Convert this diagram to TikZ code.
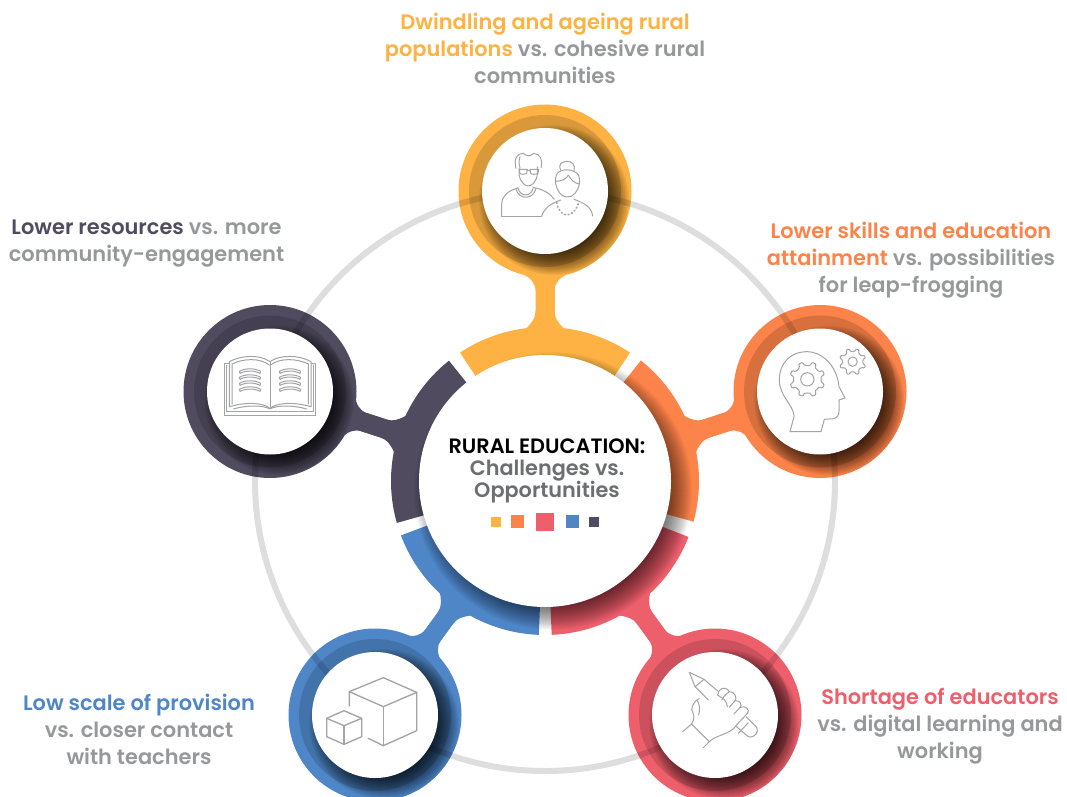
\documentclass[tikz,border=0pt]{standalone}
\usepackage{fontspec}
\setmainfont{Poppins SemiBold}
\definecolor{cy}{HTML}{FDB243}
\definecolor{co}{HTML}{FC8349}
\definecolor{cr}{HTML}{EE5F6C}
\definecolor{cb}{HTML}{4E86C8}
\definecolor{cd}{HTML}{514B5F}
\definecolor{txg}{HTML}{97989B}
\definecolor{mid}{HTML}{6D6E71}
\definecolor{ringg}{HTML}{DEDEDE}
\definecolor{ico}{HTML}{A3A4A6}
\tikzset{
  lab/.style={font=\fontsize{15.7}{20.25}\selectfont,align=center,text=txg,inner sep=0},
  hubdisc/.style={circle,fill=white,minimum size=94.5pt,inner sep=0},
  stem/.style={line width=14.25pt},
  icon/.style={draw=ico,line width=.75pt,line join=round,line cap=round},
  bigring/.style={draw=ringg,line width=4.5pt},
}
\newcommand{\fillet}[2]{%
  \begin{scope}[shift={(cc)},rotate=#1]
    \fill[#2] (148,24) .. controls (158,12) and (164,9.5) .. (170,9.5) -- (190,9.5)
      .. controls (198,9.5) and (203,14) .. (208,24) -- (208,-24)
      .. controls (203,-14) and (198,-9.5) .. (190,-9.5) -- (170,-9.5)
      .. controls (164,-9.5) and (158,-12) .. (148,-24) -- cycle;
  \end{scope}}
\newcommand{\segm}[3]{\fill[#3] ([shift={(cc)}]#1:120) arc (#1:#2:120) -- ([shift={(cc)}]#2:154) arc (#2:#1:154) -- cycle;}
\newcommand{\hubbase}[2]{%
  \fill[#2] (#1) circle (86.5);
  \fill[black,opacity=.14] (#1) circle (76);
  \begin{scope}
    \clip (#1) circle (86.5);
    \foreach \r in {75,74,...,50} \fill[black,opacity=.045] ([shift={(9,-9)}]#1) circle (\r);
  \end{scope}}
\newcommand{\gearicon}[5]{%
  \begin{scope}[shift={(#1,#2)}]
   \draw[icon,rounded corners=.8pt] (#4,0) \foreach \a in {0,45,...,315}{
     -- (\a+12:#4) -- (\a+15:#3) -- (\a+30:#3) -- (\a+33:#4) } -- cycle;
   \draw[icon] (0,0) circle (#5);
  \end{scope}}
\begin{document}
\begin{tikzpicture}[x=.75pt,y=.75pt]
\useasboundingbox (0,0) rectangle (1067,-796);
\fill[white] (0,0) rectangle (1067,-796);
\coordinate (cc) at (545,-481);
\coordinate (hy) at (545,-191);
\coordinate (ho) at (820,-391.5);
\coordinate (hd) at (270,-391.5);
\coordinate (hb) at (375,-715);
\coordinate (hr) at (715,-715);
\begin{scope}
\clip (0,0) rectangle (1067,-796);
\draw[bigring] (cc) circle (290);
\draw[stem,cy] (cc) -- (hy);
\draw[stem,co] (cc) -- (ho);
\draw[stem,cd] (cc) -- (hd);
\draw[stem,cb] (cc) -- (hb);
\draw[stem,cr] (cc) -- (hr);
\fillet{90}{cy}\fillet{18}{co}\fillet{162}{cd}\fillet{234}{cb}\fillet{306}{cr}
\fill[white] (cc) circle (125);
\segm{56.5}{123.5}{cy}
\segm{-15.3}{51.5}{co}
\segm{-87.5}{-21.3}{cr}
\segm{-159.3}{-92.3}{cb}
\segm{128.6}{195.8}{cd}
\foreach \r in {139,138,...,114} \fill[black,opacity=.026] (553,-491) circle (\r);
\hubbase{hy}{cy}\hubbase{ho}{co}\hubbase{hd}{cd}\hubbase{hb}{cb}\hubbase{hr}{cr}
\begin{scope}
\clip (hy) circle (86.5) (ho) circle (86.5) (hd) circle (86.5) (hb) circle (86.5) (hr) circle (86.5);
\draw[black,opacity=.13,line width=4.5pt] (cc) circle (290);
\end{scope}
\end{scope}
\node[hubdisc] (ny) at (hy) {};
\node[hubdisc] (no) at (ho) {};
\node[hubdisc] (nd) at (hd) {};
\node[hubdisc] (nb) at (hb) {};
\node[hubdisc] (nr) at (hr) {};
\node[circle,fill=white,minimum size=189pt,inner sep=0] (nc) at (cc) {};
\node[font=\fontsize{15.6}{16.5}\selectfont,align=center,inner sep=0,text=mid] (tc) at (547,-471)
  {\textcolor{black}{RURAL EDUCATION:}\\Challenges vs.\\Opportunities};
\fill[cy] (491,-517) rectangle (501,-527);
\fill[co] (511,-515) rectangle (524.3,-528.3);
\fill[cr] (536,-513) rectangle (554,-531);
\fill[cb] (566,-515) rectangle (579.3,-528.3);
\fill[cd] (589.3,-517) rectangle (599.3,-527);
\node[lab] (ty) at (545,-48) {\textcolor{cy}{Dwindling and ageing rural}\\\textcolor{cy}{populations} vs. cohesive rural\\communities};
\node[lab] (td) at (146.5,-244) {\textcolor{cd}{Lower resources} vs. more\\community-engagement};
\node[lab] (to) at (911,-260) {\textcolor{co}{Lower skills and education}\\\textcolor{co}{attainment} vs. possibilities\\for leap-frogging};
\node[lab] (tb) at (139,-729) {\textcolor{cb}{Low scale of provision}\\vs. closer contact\\with teachers};
\node[lab] (tr) at (940,-726) {\textcolor{cr}{Shortage of educators}\\vs. digital learning and\\working};
\begin{scope}[shift={(440,-100)},x=.25pt,y=-.25pt]
\draw[icon] (185,348) -- (305,348);
\draw[icon] (185,348) -- (185,312) .. controls (187,285) and (205,272) .. (234,264);
\draw[icon] (280,262) .. controls (310,268) and (330,280) .. (343,298);
\draw[icon] (234,264) .. controls (240,292) and (275,292) .. (280,262);
\draw[icon] (228,268) .. controls (238,300) and (280,300) .. (288,265);
\draw[icon] (237,205) -- (237,225) .. controls (240,245) and (255,258) .. (264,258) .. controls (276,258) and (290,245) .. (292,222) -- (292,200);
\draw[icon] (228,205) .. controls (220,175) and (232,160) .. (250,160) .. controls (262,170) and (272,170) .. (280,160) .. controls (300,160) and (310,180) .. (303,203);
\draw[icon] (240,170) .. controls (235,185) and (238,195) .. (240,205);
\draw[icon] (238,208) -- (262,208) -- (260,220) .. controls (255,224) and (243,224) .. (240,220) -- cycle;
\draw[icon] (270,208) -- (296,208) -- (294,220) .. controls (288,224) and (275,224) .. (272,220) -- cycle;
\draw[icon] (262,211) -- (270,211);
\draw[icon] (362,210) .. controls (352,190) and (370,184) .. (382,184) .. controls (395,184) and (408,195) .. (402,212);
\draw[icon] (352,220) .. controls (365,205) and (400,205) .. (416,225) .. controls (422,245) and (418,265) .. (405,280) .. controls (395,295) and (368,295) .. (358,278) .. controls (348,262) and (340,240) .. (352,220) -- cycle;
\draw[icon] (345,243) .. controls (368,245) and (380,235) .. (385,225) .. controls (392,240) and (405,250) .. (417,252);
\draw[icon] (305,348) .. controls (315,322) and (330,312) .. (362,300);
\draw[icon] (402,298) .. controls (430,308) and (455,320) .. (458,348);
\draw[icon,dotted,line width=1.2pt] (350,308) .. controls (355,335) and (370,345) .. (382,345) .. controls (400,342) and (412,325) .. (416,307);
\end{scope}
\begin{scope}[shift={(720,-320)},x=.25pt,y=-.25pt]
\draw[icon] (210,335) -- (303,335) -- (313,298) -- (340,296) .. controls (352,294) and (357,285) .. (357,272) -- (357,240) -- (375,234) -- (357,200) .. controls (350,130) and (300,95) .. (262,95) .. controls (210,95) and (178,130) .. (178,180) .. controls (178,230) and (222,255) .. (222,290) -- cycle;
\gearicon{262}{178}{53}{42}{20}
\gearicon{398}{125}{40}{31}{14}
\end{scope}
\begin{scope}[shift={(170,-300)},x=.25pt,y=-.25pt]
\draw[icon] (163,345) -- (163,190) -- (178,190);
\draw[icon] (437,345) -- (437,190) -- (423,190);
\draw[icon] (163,345) -- (437,345);
\draw[icon] (170,335) -- (170,195);
\draw[icon] (430,335) -- (430,195);
\draw[icon] (170,335) -- (430,335);
\draw[icon] (178,320) -- (178,185) .. controls (215,165) and (270,163) .. (300,185) .. controls (330,163) and (390,165) .. (423,185) -- (423,320);
\draw[icon] (186,312) -- (186,192) .. controls (220,175) and (270,173) .. (298,195);
\draw[icon] (415,312) -- (415,192) .. controls (380,175) and (330,173) .. (302,195);
\draw[icon] (300,185) -- (300,325);
\draw[icon] (178,320) .. controls (230,305) and (280,308) .. (300,325) .. controls (320,308) and (370,305) .. (423,320);
\draw[icon] (190,327) .. controls (230,315) and (280,315) .. (300,327) .. controls (320,315) and (370,315) .. (410,327);
\foreach \cx in {240,360} \foreach \yy in {214,232,250,268} {
  \draw[icon] (\cx-32,\yy) .. controls (\cx-15,\yy-10) and (\cx+15,\yy-10) .. (\cx+32,\yy)
     -- (\cx+30,\yy+6) .. controls (\cx+15,\yy-3) and (\cx-15,\yy-3) .. (\cx-30,\yy+6) -- cycle;
}
\end{scope}
\begin{scope}[shift={(280,-610)},x=.25pt,y=-.25pt]
\draw[icon,line width=1pt] (208,288) -- (208,245) -- (310,203) -- (410,247) -- (410,362) -- (310,407) -- (265,385);
\draw[icon,line width=1pt] (208,245) -- (310,290) -- (410,247);
\draw[icon,line width=1pt] (310,290) -- (310,407);
\draw[icon,line width=1pt] (140,325) -- (192,302) -- (245,325) -- (245,380) -- (192,403) -- (140,380) -- cycle;
\draw[icon,line width=1pt] (140,325) -- (192,347) -- (245,325);
\draw[icon,line width=1pt] (192,347) -- (192,403);
\end{scope}
\begin{scope}[shift={(620,-620)},x=.25pt,y=-.25pt]
\draw[icon] (208,157) -- (252,178) -- (293,213);
\draw[icon] (208,157) -- (225,200) -- (265,240);
\draw[icon] (225,200) -- (252,178);
\draw[icon] (378,290) -- (410,322) .. controls (418,335) and (405,355) .. (385,350) -- (347,318);
\draw[icon] (385,308) -- (355,340);
\draw[icon] (188,335) -- (215,312) -- (268,365);
\draw[icon] (250,383) -- (268,365);
\draw[icon] (215,312) .. controls (225,295) and (222,285) .. (215,268) .. controls (218,250) and (228,240) .. (238,236);
\draw[icon] (232,242) .. controls (240,255) and (240,270) .. (236,285);
\draw[icon] (268,365) .. controls (285,345) and (330,345) .. (350,315) .. controls (362,300) and (375,290) .. (383,278);
\draw[icon] (293,225) .. controls (295,205) and (315,195) .. (328,215) .. controls (345,215) and (352,235) .. (345,242) .. controls (360,240) and (368,255) .. (360,262) .. controls (378,255) and (390,270) .. (383,280);
\draw[icon] (293,225) .. controls (305,235) and (318,235) .. (322,260);
\draw[icon] (328,215) .. controls (315,225) and (308,232) .. (306,240);
\draw[icon] (345,242) -- (328,262);
\draw[icon] (360,262) -- (342,282);
\end{scope}
\end{tikzpicture}
\end{document}
